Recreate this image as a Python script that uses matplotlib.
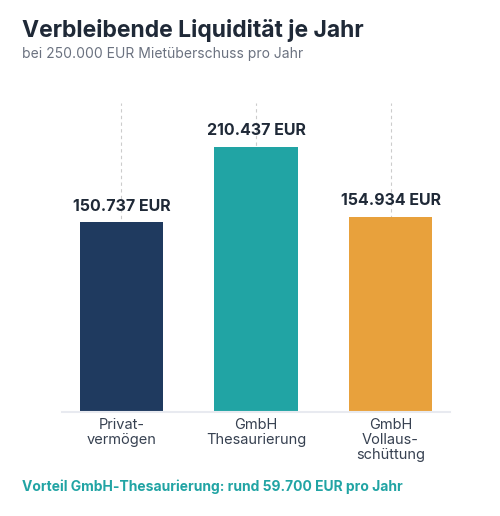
import matplotlib
matplotlib.use("Agg")
import matplotlib.pyplot as plt

categories = ["Privat-\nvermögen", "GmbH\nThesaurierung", "GmbH\nVollaus-\nschüttung"]
values = [150737, 210437, 154934]
value_labels = ["150.737 EUR", "210.437 EUR", "154.934 EUR"]
colors = ["#1f3a5f", "#21a4a4", "#e8a13c"]

title = "Verbleibende Liquidität je Jahr"
subtitle = "bei 250.000 EUR Mietüberschuss pro Jahr"
footer = "Vorteil GmbH-Thesaurierung: rund 59.700 EUR pro Jahr"

plt.rcParams['font.family'] = ['Inter', 'DejaVu Sans']

fig = plt.figure(figsize=(5.0, 5.16), dpi=100)
ax = fig.add_axes([0.124, 0.2016, 0.776, 0.5988])

x = list(range(len(categories)))
ax.bar(x, values, width=0.62, color=colors, zorder=2)
for xi, v, lab in zip(x, values, value_labels):
    ax.annotate(lab, (xi, v), xytext=(0, 6), textcoords="offset points",
                ha="center", va="bottom", fontsize=11.5, fontweight="bold",
                color="#1f2937")

ax.set_xlim(-0.442, 2.442)
ax.set_ylim(0, 245000)
ax.set_xticks(x)
ax.set_xticklabels(categories, fontsize=10.5, color="#374151", linespacing=1.1)
ax.tick_params(axis="x", length=0, pad=4)
ax.set_yticks([])
ax.grid(axis="x", color="#cccccc", linestyle=(0, (3, 3)), linewidth=0.8, zorder=0)
for s in ["top", "right", "left"]:
    ax.spines[s].set_visible(False)
ax.spines["bottom"].set_color("#e8eaf0")
ax.spines["bottom"].set_linewidth(1.5)

fig.text(0.044, 0.928, title, fontsize=16.5, fontweight="bold", color="#1f2937",
         ha="left", va="baseline")
fig.text(0.044, 0.888, subtitle, fontsize=10, color="#6b7280",
         ha="left", va="baseline")
fig.text(0.044, 0.048, footer, fontsize=10, fontweight="bold", color="#21a4a4",
         ha="left", va="baseline")

fig.savefig("out.png", dpi=100)
